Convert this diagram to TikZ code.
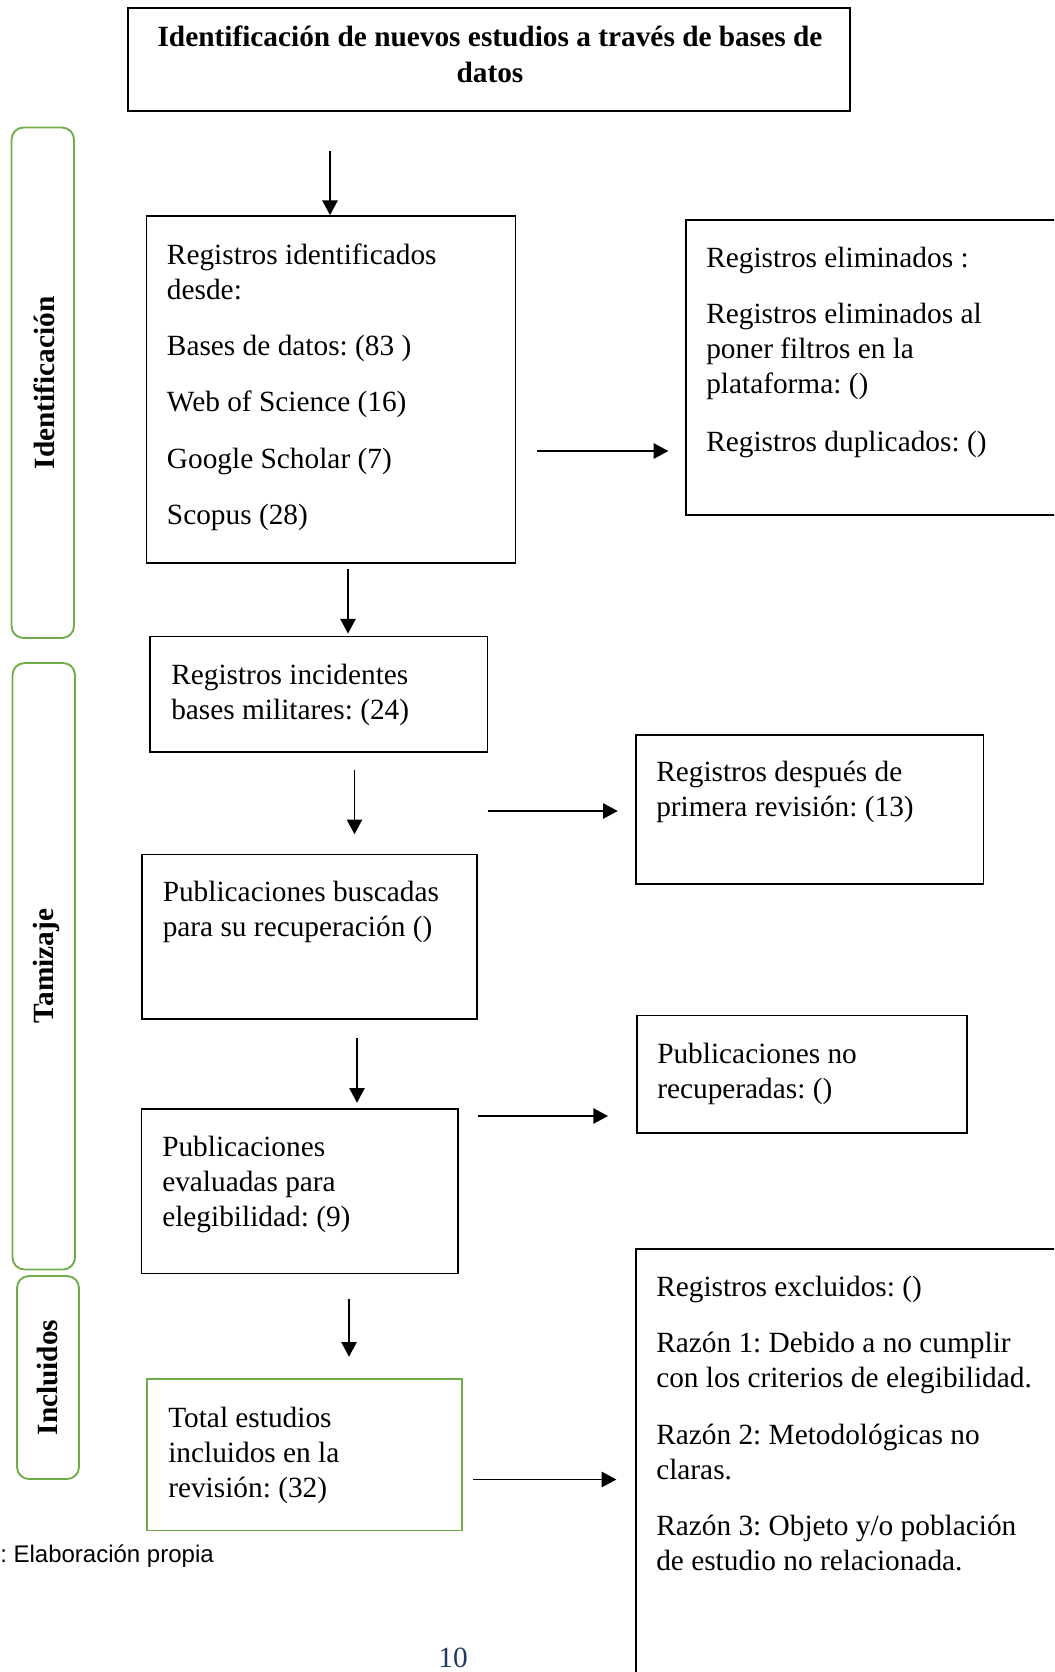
\documentclass[tikz,border=0pt]{standalone}
\usepackage{fontspec}
\setmainfont{Liberation Serif}
\newfontfamily\arialf{Liberation Sans}
\usetikzlibrary{arrows.meta,fit}
\definecolor{pgreen}{RGB}{112,173,71}
\definecolor{pnavy}{RGB}{31,56,100}
\frenchspacing
\newcommand\btext[1]{\parbox[t]{420pt}{\raggedright #1}}
\begin{document}
\begin{tikzpicture}[x=0.75pt,y=-0.75pt,
  box/.style={draw=black, line width=1.4pt, inner sep=0pt, fit={#1}},
  gbox/.style={draw=pgreen, line width=1.4pt, inner sep=0pt, fit={#1}},
  phase/.style={draw=pgreen, line width=1.4pt, inner sep=0pt, rounded corners=9pt, fit={#1}},
  txt/.style={anchor=base west, inner sep=0pt, font=\fontsize{22}{26.25}\selectfont},
  lab/.style={rotate=90, anchor=base, inner sep=0pt, font=\bfseries\fontsize{22}{26}\selectfont},
  arr/.style={-{Triangle[length=11pt,width=11.5pt]}, line width=1.1pt}]
\useasboundingbox (0,0) rectangle (1054,1672);
\clip (0,0) rectangle (1054,1672);

% boxes
\node[box={(128,8) (850,111)}] (title) {};
\node[box={(146.5,216) (515.5,563)}] (box1) {};
\node[box={(686,220) (1120,515)}] (elim) {};
\node[box={(150,636.5) (487.5,752)}] (incid) {};
\node[box={(636,735) (983.5,884)}] (desp) {};
\node[box={(142,854.5) (477,1019)}] (busc) {};
\node[box={(637,1015.5) (967,1133)}] (norec) {};
\node[box={(141.5,1109) (458,1273.5)}] (eval) {};
\node[gbox={(147,1379) (462,1530.5)}] (total) {};
\node[box={(636,1249) (1120,1720)}] (excl) {};

% phase bars
\node[phase={(11.5,127.5) (74,638)}] (ph1) {};
\node[phase={(12.5,663) (75,1269.5)}] (ph2) {};
\node[phase={(17,1276) (79,1479)}] (ph3) {};
\node[lab] (lab1) at (55,383) {Identificación};
\node[lab] (lab2) at (53.5,966) {Tamizaje};
\node[lab] (lab3) at (57,1377.5) {Incluidos};

% texts
\node[anchor=base, inner sep=0pt, font=\bfseries\fontsize{22}{27}\selectfont] (ttitle) at (490,46)
  {\parbox[t]{700pt}{\centering Identificación de nuevos estudios a través de bases de\\datos}};
\node[txt] (t1) at (166.7,264) {\btext{Registros identificados\\desde:\\[16pt]Bases de datos: (83 )\\[16pt]Web of Science (16)\\[16pt]Google Scholar (7)\\[16pt]Scopus (28)}};
\node[txt] (t2) at (706,267.5) {\btext{Registros eliminados :\\[16pt]Registros eliminados al\\poner filtros en la\\plataforma: ()\\[17pt]Registros duplicados: ()}};
\node[txt] (t3) at (171,684) {\btext{Registros incidentes\\bases militares: (24)}};
\node[txt] (t4) at (656,781.5) {\btext{Registros después de\\primera revisión: (13)}};
\node[txt] (t5) at (162.5,901.5) {\btext{Publicaciones buscadas\\para su recuperación ()}};
\node[txt] (t6) at (657,1063) {\btext{Publicaciones no\\recuperadas: ()}};
\node[txt] (t7) at (162,1156.5) {\btext{Publicaciones\\evaluadas para\\elegibilidad: (9)}};
\node[txt] (t8) at (168,1427) {\btext{Total estudios\\incluidos en la\\revisión: (32)}};
\node[txt] (t9) at (656,1296.5) {\btext{Registros excluidos: ()\\[16pt]Razón 1: Debido a no cumplir\\con los criterios de elegibilidad.\\[16pt]Razón 2: Metodológicas no\\claras.\\[16pt]Razón 3: Objeto y/o población\\de estudio no relacionada.}};

\node[anchor=base west, inner sep=0pt, font=\arialf\fontsize{18}{21}\selectfont] (src) at (0,1562) {: Elaboración propia};
\node[anchor=base, inner sep=0pt, text=pnavy, font=\fontsize{22}{26}\selectfont] (pg) at (453,1667) {10};

% arrows
\coordinate (s1) at (330,151);
\draw[arr] (s1) -- (s1 |- box1.north);
\coordinate (s2) at (537,451);
\draw[arr] (s2) -- ([xshift=-12.5pt]s2 -| elim.west);
\coordinate (s3) at (348,569);
\draw[arr] (s3) -- ([yshift=1.5pt]s3 |- incid.north);
\coordinate (s4) at (354.5,770);
\draw[arr] (s4) -- ([yshift=14.5pt]s4 |- busc.north);
\coordinate (s5) at (487.5,811);
\draw[arr] (s5) -- ([xshift=-13pt]s5 -| desp.west);
\coordinate (s6) at (357,1038);
\draw[arr] (s6) -- ([yshift=4pt]s6 |- eval.north);
\coordinate (s7) at (477.5,1116);
\draw[arr] (s7) -- ([xshift=-21pt]s7 -| norec.west);
\coordinate (s8) at (349,1299);
\draw[arr] (s8) -- ([yshift=16pt]s8 |- total.north);
\coordinate (s9) at (473,1479.5);
\draw[arr] (s9) -- ([xshift=-14pt]s9 -| excl.west);
\end{tikzpicture}
\end{document}
